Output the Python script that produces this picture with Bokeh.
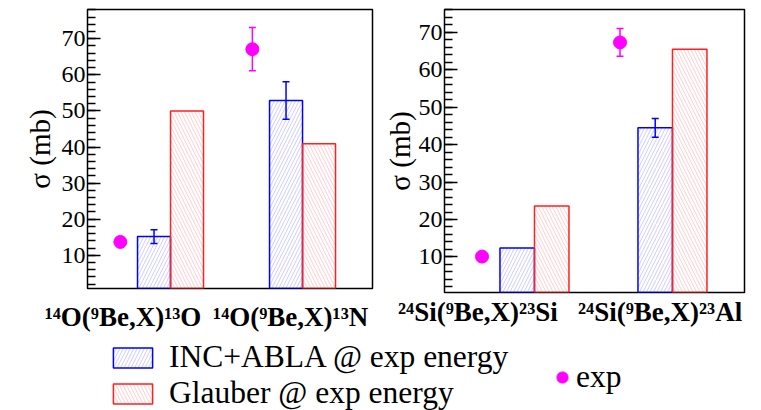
import numpy as np
from bokeh.plotting import figure
from bokeh.models import (ColumnDataSource, Range1d, Whisker, TeeHead, FixedTicker,
                          SingleIntervalTicker, Legend, LegendItem)
from bokeh.layouts import column, row
from bokeh.embed import file_html
from bokeh.resources import INLINE

# ---------------- data ----------------
reactions_left = ["¹⁴O(⁹Be,X)¹³O", "¹⁴O(⁹Be,X)¹³N"]
inc_left = [15.2, 52.9]
inc_err_left = [1.9, 5.2]
glauber_left = [50.0, 40.9]
exp_left = [13.7, 67.1]
exp_err_left = [0.0, 6.0]

reactions_right = ["²⁴Si(⁹Be,X)²³Si", "²⁴Si(⁹Be,X)²³Al"]
inc_right = [12.4, 44.5]
inc_err_right = [0.0, 2.5]
glauber_right = [23.6, 65.5]
exp_right = [10.1, 67.3]
exp_err_right = [0.0, 3.7]

legend_labels = ["INC+ABLA @ exp energy", "Glauber @ exp energy", "exp"]

# ---------------- styles ----------------
BAR_W = 0.25
EXP_OFF = 0.38
SERIF = "Times New Roman"
INC_STYLE = dict(fill_color=None, line_color="#0000ff", line_width=1.5,
                 hatch_pattern="/", hatch_color="#3333ff", hatch_alpha=0.25,
                 hatch_scale=7, hatch_weight=1)
GL_STYLE = dict(fill_color=None, line_color="#ff2020", line_width=1.5,
                hatch_pattern="\\", hatch_color="#ff3333", hatch_alpha=0.25,
                hatch_scale=7, hatch_weight=1)
EXP_COLOR = "#ff00ff"


def whisker(p, x, val, err, color):
    x = np.asarray(x, float)
    val = np.asarray(val, float)
    err = np.asarray(err, float)
    m = err > 0
    if not m.any():
        return
    src = ColumnDataSource(dict(x=x[m], upper=(val + err)[m], lower=(val - err)[m]))
    w = Whisker(base="x", upper="upper", lower="lower", source=src,
                line_color=color, line_width=1.5, level="overlay",
                upper_head=TeeHead(size=7, line_color=color, line_width=1.5),
                lower_head=TeeHead(size=7, line_color=color, line_width=1.5))
    p.add_layout(w)


def panel(cats, inc, inc_err, gl, ex, ex_err, x_rng, y_rng, fw, fh,
          bl, br, bt, bb, label_off, x_standoff, ax_standoff):
    xs = np.arange(1, len(cats) + 1, dtype=float)
    p = figure(frame_width=fw, frame_height=fh,
               x_range=Range1d(*x_rng), y_range=Range1d(*y_rng),
               output_backend="svg", toolbar_location=None,
               min_border_left=bl, min_border_right=br,
               min_border_top=bt, min_border_bottom=bb)
    p.grid.visible = False
    p.outline_line_color = "black"
    p.outline_line_width = 1.5
    p.background_fill_color = "white"
    p.border_fill_color = "white"

    p.vbar(x=xs - BAR_W / 2, top=inc, bottom=0, width=BAR_W, **INC_STYLE)
    p.vbar(x=xs + BAR_W / 2, top=gl, bottom=0, width=BAR_W, **GL_STYLE)
    whisker(p, xs - BAR_W / 2, inc, inc_err, "#0000ff")
    whisker(p, xs - EXP_OFF, ex, ex_err, EXP_COLOR)
    p.scatter(x=xs - EXP_OFF, y=ex, size=13, color=EXP_COLOR, level="overlay")

    yax = p.yaxis[0]
    yax.ticker = SingleIntervalTicker(interval=10, num_minor_ticks=5)
    yax.major_tick_in = 13
    yax.major_tick_out = 0
    yax.minor_tick_in = 8
    yax.minor_tick_out = 0
    yax.major_tick_line_width = 1.5
    yax.minor_tick_line_width = 1.5
    yax.axis_line_color = None
    yax.major_label_text_font = SERIF
    yax.major_label_text_font_size = "24px"
    yax.major_label_text_color = "black"
    yax.major_label_standoff = 2
    yax.axis_label = "σ (mb)"
    yax.axis_label_text_font = SERIF
    yax.axis_label_text_font_style = "normal"
    yax.axis_label_text_font_size = "29px"
    yax.axis_label_text_color = "black"
    yax.axis_label_standoff = ax_standoff

    pos = [float(round(x + o, 3)) for x, o in zip(xs, label_off)]
    xax = p.xaxis[0]
    xax.ticker = FixedTicker(ticks=pos, minor_ticks=[])
    xax.major_label_overrides = {v: c for v, c in zip(pos, cats)}
    xax.major_tick_in = 0
    xax.major_tick_out = 0
    xax.minor_tick_in = 0
    xax.minor_tick_out = 0
    xax.axis_line_color = None
    xax.major_label_text_font = SERIF
    xax.major_label_text_font_style = "bold"
    xax.major_label_text_font_size = "27px"
    xax.major_label_text_color = "black"
    xax.major_label_standoff = x_standoff
    return p


p1 = panel(reactions_left, inc_left, inc_err_left, glauber_left, exp_left, exp_err_left,
           x_rng=(0.371, 2.53), y_rng=(0.8, 78.1), fw=285, fh=279,
           bl=87, br=8, bt=7, bb=53, label_off=[-0.36, -0.09],
           x_standoff=13, ax_standoff=3)
p2 = panel(reactions_right, inc_right, inc_err_right, glauber_right, exp_right, exp_err_right,
           x_rng=(0.348, 2.522), y_rng=(0.5, 76.1), fw=300, fh=283,
           bl=64, br=17, bt=9, bb=47, label_off=[-0.41, -0.09],
           x_standoff=4, ax_standoff=0)

# ---------------- legend strip ----------------
# hidden proxy glyphs that only feed the legend
p3 = figure(width=761, height=71, x_range=Range1d(0, 1), y_range=Range1d(0, 80),
            output_backend="svg", toolbar_location=None, min_border=0,
            x_axis_location=None, y_axis_location=None)
p3.grid.visible = False
p3.outline_line_color = None
r_inc = p3.vbar(x=[0.5], top=[inc_left[0]], width=0.1, visible=False, **INC_STYLE)
r_gl = p3.vbar(x=[0.5], top=[glauber_left[0]], width=0.1, visible=False, **GL_STYLE)
r_exp = p3.scatter(x=[0.5], y=[exp_left[0]], size=13, color=EXP_COLOR, visible=False)

leg_common = dict(padding=0, margin=0, border_line_color=None, background_fill_alpha=0,
                  inactive_fill_alpha=0,
                  label_text_font=SERIF, label_text_font_size="31.5px", label_text_color="black")
leg1 = Legend(items=[LegendItem(label=legend_labels[0], renderers=[r_inc]),
                     LegendItem(label=legend_labels[1], renderers=[r_gl])],
              location=(108, -1), glyph_width=49, glyph_height=25, spacing=0,
              label_height=36, label_standoff=12, **leg_common)
leg2 = Legend(items=[LegendItem(label=legend_labels[2], renderers=[r_exp])],
              location=(548, 15), glyph_width=28, glyph_height=32, spacing=0,
              label_height=36, label_standoff=0, **leg_common)
p3.add_layout(leg1)
p3.add_layout(leg2)

layout = column(row(p1, p2, spacing=0), p3, spacing=0)
open("out.html", "w").write(file_html(layout, INLINE))
